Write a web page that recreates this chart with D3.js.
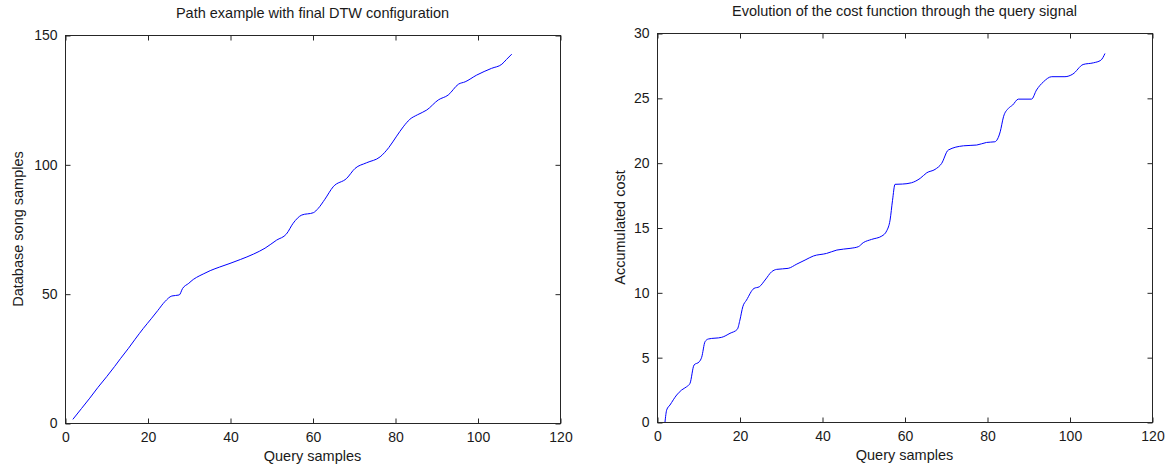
<!DOCTYPE html>
<html>
<head>
<meta charset="utf-8">
<script src="https://cdn.jsdelivr.net/npm/d3@7"></script>
<style>
  html, body { margin: 0; padding: 0; background: #fff; }
  svg { display: block; }
  text { font-family: "Liberation Sans", Arial, sans-serif; fill: #1a1a1a; }
</style>
</head>
<body>
<svg id="chart" width="1167" height="465"></svg>
<script>
// ---- Data ----
const xTickValues = [0, 20, 40, 60, 80, 100, 120];

// Left chart: DTW path
const pathQuery = [1.9, 4, 6, 8, 10.1, 12, 13.5, 15.4, 17, 19, 21, 22.5, 24.2, 25.9, 27.7, 28.5, 30, 31.1, 31.9, 33.5, 35.2, 37.5, 40, 42.5, 45.7, 48.5, 51.3, 53.7, 55.3, 57.4, 60.2, 61.4, 63, 65, 68.3, 70.3, 73.1, 76.4, 78.5, 80.4, 82, 83.6, 85.5, 87.7, 90.5, 92.9, 95.4, 97, 99.8, 103.4, 105.9, 107, 108.3];
const pathDb = [1.4, 5.6, 9.6, 13.8, 17.9, 21.8, 25, 28.9, 32.4, 36.6, 40.5, 43.5, 46.9, 49.1, 49.5, 52, 54, 55.5, 56.3, 57.6, 58.9, 60.3, 61.7, 63.2, 65.3, 67.6, 70.7, 73.1, 77.2, 80.4, 81.3, 83, 86.5, 91.3, 94.6, 98.4, 100.6, 102.9, 106.5, 110.9, 114.5, 117.4, 119.2, 121, 124.9, 126.8, 131, 131.9, 134.5, 137.1, 138.7, 140.5, 142.6];
const pathYTicks = [0, 50, 100, 150];

// Right chart: accumulated cost
const costQuery = [1.94, 2.35, 3.15, 4.77, 5.98, 7.19, 8, 8.97, 10.26, 10.83, 11.64, 12.44, 15.68, 17.7, 19.47, 20.1, 20.8, 21.7, 23.5, 24.8, 26.2, 27.8, 29, 31.8, 33.9, 35.9, 37.9, 41.1, 43.6, 46.8, 48.8, 50, 52, 54.5, 55.7, 56.5, 57.1, 57.7, 59.5, 61.7, 63.8, 65.4, 67.4, 69, 70.6, 74.3, 77.5, 79.9, 81.9, 83.2, 84, 85.2, 86.2, 87.6, 90.8, 92, 93.7, 95.7, 98.9, 100.8, 103.3, 105.8, 107.6, 108.6];
const costValue = [0, 0.93, 1.31, 2.08, 2.47, 2.72, 2.98, 4.39, 4.65, 4.99, 6.19, 6.4, 6.53, 6.84, 7.15, 7.86, 8.89, 9.4, 10.3, 10.43, 10.95, 11.59, 11.77, 11.85, 12.18, 12.49, 12.8, 13.0, 13.26, 13.39, 13.52, 13.83, 14.08, 14.34, 14.75, 15.57, 17.1, 18.33, 18.35, 18.45, 18.79, 19.22, 19.48, 19.94, 20.97, 21.3, 21.36, 21.56, 21.61, 22.38, 23.54, 24.19, 24.44, 24.9, 24.9, 25.6, 26.24, 26.63, 26.63, 26.83, 27.57, 27.7, 27.9, 28.42];
const costYTicks = [0, 5, 10, 15, 20, 25, 30];

const svg = d3.select("#chart");

function panel(opt) {
  const x = d3.scaleLinear().domain([0, 120]).range([opt.left, opt.right]);
  const y = d3.scaleLinear().domain(opt.yDomain).range([opt.bottom, opt.top]);
  const g = svg.append("g");
  const tickLen = 5;
  const fsTick = "14px";
  const fsLab = "14.5px";

  // frame
  g.append("rect")
    .attr("x", opt.left + 0.5).attr("y", opt.top + 0.5)
    .attr("width", opt.right - opt.left).attr("height", opt.bottom - opt.top)
    .attr("fill", "none").attr("stroke", "#262626").attr("stroke-width", 1);

  const bx = g.append("g").attr("transform", `translate(0.5,${opt.bottom + 0.5})`)
    .call(d3.axisBottom(x).tickValues(xTickValues).tickSizeInner(-tickLen).tickSizeOuter(0).tickPadding(tickLen + 4).tickFormat(d3.format("d")));
  const tx = g.append("g").attr("transform", `translate(0.5,${opt.top + 0.5})`)
    .call(d3.axisTop(x).tickValues(xTickValues).tickSizeInner(-tickLen).tickSizeOuter(0).tickFormat(""));
  const ly = g.append("g").attr("transform", `translate(${opt.left + 0.5},0.5)`)
    .call(d3.axisLeft(y).tickValues(opt.yTicks).tickSizeInner(-tickLen).tickSizeOuter(0).tickPadding(tickLen + 3).tickFormat(d3.format("d")));
  const ry = g.append("g").attr("transform", `translate(${opt.right + 0.5},0.5)`)
    .call(d3.axisRight(y).tickValues(opt.yTicks).tickSizeInner(-tickLen).tickSizeOuter(0).tickFormat(""));

  [bx, tx, ly, ry].forEach(a => {
    a.select(".domain").remove();
    a.selectAll(".tick line").attr("stroke", "#262626");
    a.selectAll(".tick text").attr("font-family", "Liberation Sans, Arial, sans-serif").attr("font-size", fsTick).attr("fill", "#1a1a1a");
  });

  const line = d3.line().x((d, i) => x(opt.xs[i])).y((d, i) => y(opt.ys[i])).curve(d3.curveMonotoneX);
  g.append("path").datum(opt.xs)
    .attr("d", line).attr("fill", "none").attr("stroke", "#0000ff").attr("stroke-width", 1);

  g.append("text").attr("x", (opt.left + opt.right) / 2).attr("y", opt.top - 17)
    .attr("text-anchor", "middle").attr("font-size", fsLab).text(opt.title);
  g.append("text").attr("x", (opt.left + opt.right) / 2).attr("y", opt.bottom + 38)
    .attr("text-anchor", "middle").attr("font-size", fsLab).text("Query samples");
  g.append("text").attr("transform", `translate(${opt.ylabelX},${(opt.top + opt.bottom) / 2}) rotate(-90)`)
    .attr("text-anchor", "middle").attr("font-size", fsLab).text(opt.ylabel);
}

panel({
  left: 65, right: 560, top: 35, bottom: 423,
  yDomain: [0, 150], yTicks: pathYTicks,
  xs: pathQuery, ys: pathDb,
  title: "Path example with final DTW configuration",
  ylabel: "Database song samples", ylabelX: 23
});

panel({
  left: 657, right: 1152, top: 33, bottom: 422,
  yDomain: [0, 30], yTicks: costYTicks,
  xs: costQuery, ys: costValue,
  title: "Evolution of the cost function through the query signal",
  ylabel: "Accumulated cost", ylabelX: 625
});
</script>
</body>
</html>
